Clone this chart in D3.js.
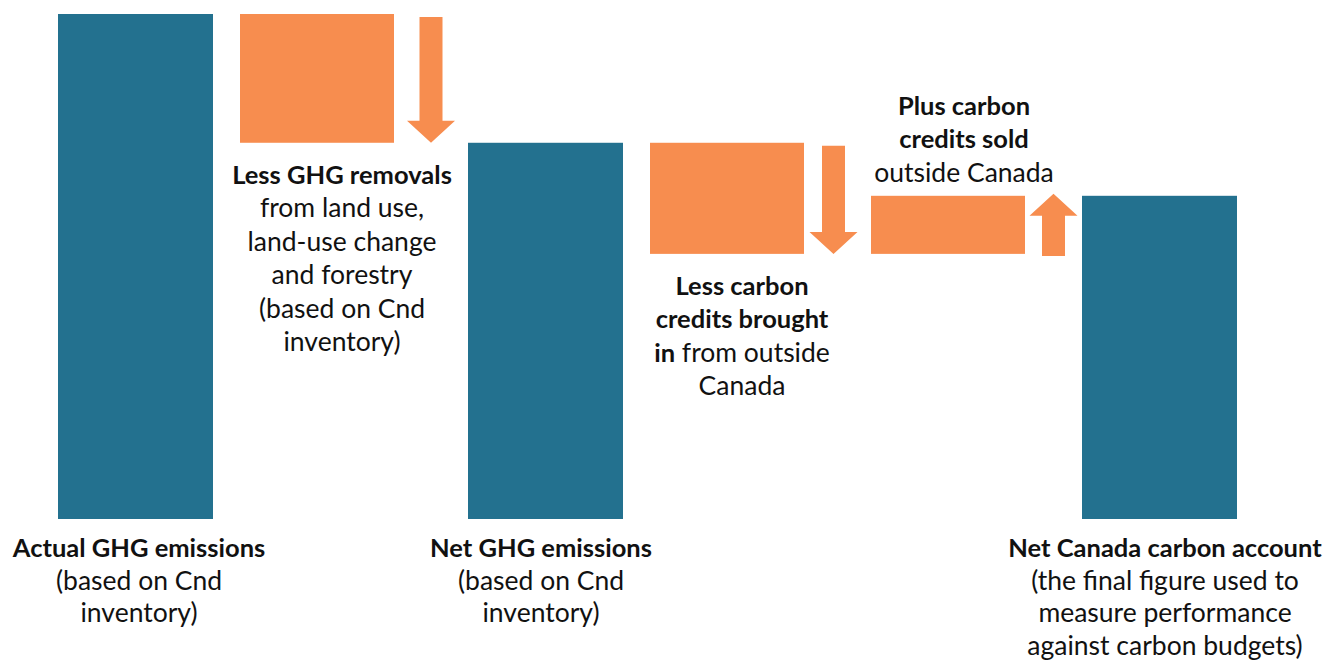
<!DOCTYPE html>
<html>
<head>
<meta charset="utf-8">
<script src="https://cdnjs.cloudflare.com/ajax/libs/d3/7.8.5/d3.min.js"></script>
<style>
  body { margin: 0; background: #fff; }
  text { font-family: Lato, "Open Sans", sans-serif; fill: #111; }
</style>
</head>
<body>
<div id="chart"></div>
<script>
var width = 1330, height = 662;

// waterfall steps (conceptual units, actual emissions = 100)
var steps = ["actual", "removals", "net", "creditsIn", "creditsOut", "account"];
var kinds = ["total", "decrease", "total", "decrease", "increase", "total"];
var values = [100, -25.5, 74.5, -22, 11.5, 64];

// label text, **...** is bold
var labels = [
    ["**Actual GHG emissions**", "(based on Cnd", "inventory)"],
    ["**Less GHG removals**", "from land use,", "land-use change", "and forestry", "(based on Cnd", "inventory)"],
    ["**Net GHG emissions**", "(based on Cnd", "inventory)"],
    ["**Less carbon**", "**credits brought**", "**in** from outside", "Canada"],
    ["**Plus carbon**", "**credits sold**", "outside Canada"],
    ["**Net Canada carbon account**", "(the final figure used to", "measure performance", "against carbon budgets)"]
];

var teal = "#23718f", orange = "#f78d4f";
var barW = 154, lineH = 33.5;

var x = d3.scaleOrdinal()
    .domain(steps)
    .range([58, 240, 468, 650, 871, 1082]);

var y = d3.scaleLinear()
    .domain([0, 100])
    .range([519, 14]);

// build start / end of every step
var level = 0;
var data = steps.map(function(s, i) {
    var d = {key: s, kind: kinds[i], lines: labels[i]};
    if (kinds[i] == "total") {
        d.y0 = 0; d.y1 = values[i];
        level = values[i];
    } else {
        d.y0 = level; d.y1 = level + values[i];
        level = d.y1;
    }
    return d;
});

var svg = d3.select("#chart")
    .append("svg")
    .attr("width", width)
    .attr("height", height);

svg.selectAll("rect.step")
    .data(data)
    .enter()
    .append("rect")
    .attr("class", "step")
    .attr("x", function(d) { return x(d.key); })
    .attr("width", function(d) { return d.kind == "total" ? barW + 1 : barW; })
    .attr("y", function(d) { return y(Math.max(d.y0, d.y1)); })
    .attr("height", function(d) { return Math.abs(y(d.y0) - y(d.y1)); })
    .attr("fill", function(d) { return d.kind == "total" ? teal : orange; });

// arrows sit between a change block and the next column
function arrowX(d, i) {
    var nextX = x(steps[i + 1]);
    return (x(d.key) + barW + nextX) / 2 - (i == 3 ? 4 : 0);
}

function arrowPath(cx, yFrom, yTo) {
    var shaft = 11.5, head = 24, headLen = 22;
    var dir = yTo > yFrom ? 1 : -1;
    var yHead = yTo - dir * headLen;
    return "M" + (cx - shaft) + "," + yFrom +
        "L" + (cx + shaft) + "," + yFrom +
        "L" + (cx + shaft) + "," + yHead +
        "L" + (cx + head) + "," + yHead +
        "L" + cx + "," + yTo +
        "L" + (cx - head) + "," + yHead +
        "L" + (cx - shaft) + "," + yHead + "Z";
}

svg.selectAll("path.arrow")
    .data(data.filter(function(d) { return d.kind != "total"; }))
    .enter()
    .append("path")
    .attr("class", "arrow")
    .attr("d", function(d) {
        var i = steps.indexOf(d.key);
        var cx = arrowX(d, i);
        if (d.kind == "decrease") {
            return arrowPath(cx, y(d.y0) + 3, y(d.y1));
        }
        return arrowPath(cx, y(d.y0) + 2, y(d.y1) - 2);
    })
    .attr("fill", orange);

// labels
function labelPos(d) {
    var cx, y0;
    if (d.kind == "total") {
        cx = x(d.key) + barW / 2 + (d.key == "actual" ? 4 : (d.key == "account" ? 6 : -4));
        y0 = 557;
    } else if (d.kind == "decrease") {
        cx = x(d.key) + barW / 2 + (d.key == "removals" ? 25 : 15);
        y0 = y(d.y1) + 41;
    } else {
        cx = x(d.key) + barW / 2 + 16;
        y0 = y(d.y1) - 14 - (d.lines.length - 1) * lineH;
    }
    return [cx, y0];
}

var lab = svg.selectAll("g.label")
    .data(data)
    .enter()
    .append("g")
    .attr("class", "label")
    .attr("transform", function(d) { return "translate(" + labelPos(d) + ")"; });

lab.each(function(d) {
    var g = d3.select(this);
    var lh = d.kind == "total" ? 32.5 : lineH;
    d.lines.forEach(function(line, li) {
        var t = g.append("text")
            .attr("x", 0)
            .attr("y", li * lh)
            .attr("text-anchor", "middle");
        line.split(/(\*\*[^*]+\*\*)/).forEach(function(part) {
            if (part == "") return;
            var bold = part.indexOf("**") == 0;
            t.append("tspan")
                .style("font-weight", bold ? "700" : "400")
                .style("font-size", bold ? "25.5px" : "26.5px")
                .text(bold ? part.replace(/\*\*/g, "") : part);
        });
    });
});
</script>
</body>
</html>
